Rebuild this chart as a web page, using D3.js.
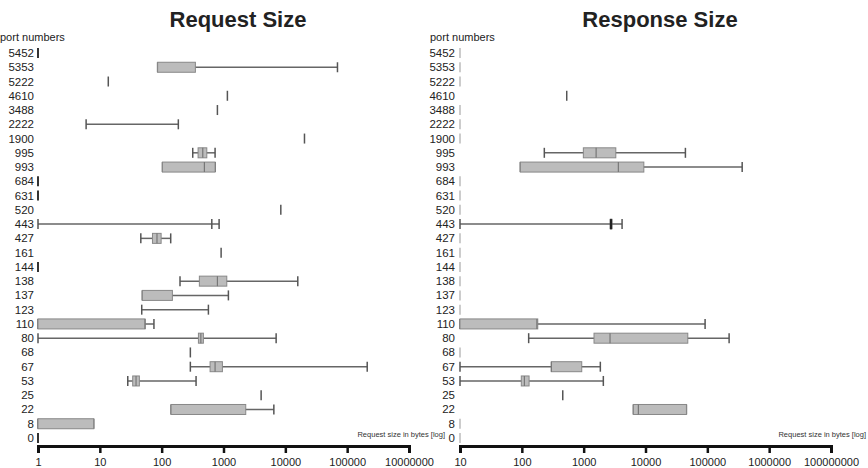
<!DOCTYPE html>
<html>
<head>
<meta charset="utf-8">
<script src="https://cdn.jsdelivr.net/npm/d3@7"></script>
<style>
    body { margin: 0; background: #fff; }
    text { font-family: "Liberation Sans", Arial, sans-serif; fill: #222; }
    .title { font-size: 22px; font-weight: bold; }
    .port { font-size: 11.5px; }
    .axis path, .axis line { stroke: #111; }
    .axis text { font-size: 11px; }
</style>
</head>
<body>
<svg id="chart" width="868" height="468"></svg>
<script>
// port numbers, top to bottom
const ports = ['5452', '5353', '5222', '4610', '3488', '2222', '1900', '995', '993', '684', '631',
    '520', '443', '427', '161', '144', '138', '137', '123', '110', '80', '68', '67', '53', '25', '22', '8', '0'];

// [min, q1, median, q3, max] per port, bytes
const requestStats = [
    [1, 1, 1, 1, 1],
    [86, 86, 86, 351, 69700],
    [13.7, 13.7, 13.7, 13.7, 13.7],
    [1156, 1156, 1156, 1156, 1156],
    [797, 797, 797, 797, 797],
    [6, 6, 6, 6, 186],
    [20400, 20400, 20400, 20400, 20400],
    [318, 388, 462, 537, 731],
    [103, 103, 491, 731, 731],
    [1, 1, 1, 1, 1],
    [1, 1, 1, 1, 1],
    [8450, 8450, 8450, 8450, 8450],
    [1, 647, 647, 647, 849],
    [46, 71, 84, 98, 140],
    [915, 915, 915, 915, 915],
    [1, 1, 1, 1, 1],
    [198, 407, 797, 1130, 15900],
    [48.7, 48.7, 48.7, 149, 1200],
    [47.6, 47.6, 47.6, 47.6, 570],
    [1, 1, 53.9, 53.9, 75],
    [1, 393, 430, 473, 7100],
    [291, 291, 291, 291, 291],
    [291, 607, 731, 960, 211000],
    [28.3, 34, 38.5, 43.6, 360],
    [4060, 4060, 4060, 4060, 4060],
    [142, 142, 142, 2290, 6520],
    [1, 1, 1, 7.96, 7.96],
    [1, 1, 1, 1, 1]
];

const responseStats = [
    [10, 10, 10, 10, 10],
    [10, 10, 10, 10, 10],
    [10, 10, 10, 10, 10],
    [532, 532, 532, 532, 532],
    [10, 10, 10, 10, 10],
    [10, 10, 10, 10, 10],
    [10, 10, 10, 10, 10],
    [231, 988, 1590, 3310, 44200],
    [94.6, 94.6, 3640, 9400, 366000],
    [10, 10, 10, 10, 10],
    [10, 10, 10, 10, 10],
    [10, 10, 10, 10, 10],
    [10, 2700, 2770, 2850, 4180],
    [10, 10, 10, 10, 10],
    [10, 10, 10, 10, 10],
    [10, 10, 10, 10, 10],
    [10, 10, 10, 10, 10],
    [10, 10, 10, 10, 10],
    [10, 10, 10, 10, 10],
    [10, 10, 175, 181, 92000],
    [129, 1470, 2670, 48300, 225000],
    [10, 10, 10, 10, 10],
    [10, 300, 300, 931, 1860],
    [10, 98, 110, 131, 2080],
    [459, 459, 459, 459, 459],
    [6370, 6370, 7670, 45900, 45900],
    [10, 10, 10, 10, 10],
    [10, 10, 10, 10, 10]
];

// tick values and their printed labels (labels as in the original figure)
const requestTicks = [1, 10, 100, 1e3, 1e4, 1e5, 1e6];
const requestTickLabels = ['1', '10', '100', '1000', '10000', '100000', '10000000'];
const responseTicks = [10, 100, 1e3, 1e4, 1e5, 1e6, 1e7];
const responseTickLabels = ['10', '100', '1000', '10000', '100000', '1000000', '100000000'];

const svg = d3.select('#chart');

function drawPanel(cfg){
    let g = svg.append('g');

    let x = d3.scaleLog().domain(cfg.domain).range(cfg.range);
    let y = d3.scalePoint().domain(ports).range([53, 438]);
    let boxH = 10;

    // title
    g.append('text')
        .attr('class', 'title')
        .attr('x', cfg.titleX)
        .attr('y', 27)
        .style('text-anchor', 'middle')
        .text(cfg.title);

    g.append('text')
        .attr('class', 'port')
        .attr('x', cfg.headX)
        .attr('y', 41)
        .style('font-size', '11px')
        .text('port numbers');

    // port labels
    g.selectAll('.port-label')
        .data(ports)
        .join('text')
        .attr('class', 'port port-label')
        .attr('x', cfg.labelX)
        .attr('y', d => y(d) + 4)
        .style('text-anchor', 'end')
        .text(d => d);

    let rows = cfg.stats.map((s, i) => ({port: ports[i], s: s}));

    let row = g.selectAll('.row')
        .data(rows)
        .join('g')
        .attr('class', 'row')
        .attr('transform', d => `translate(0, ${y(d.port)})`);

    // single value ticks
    row.filter(d => d.s[0] === d.s[4])
        .append('line')
        .attr('x1', d => x(d.s[0]))
        .attr('x2', d => x(d.s[0]))
        .attr('y1', -boxH/2)
        .attr('y2', boxH/2)
        .attr('stroke', d => d.s[0] === cfg.domain[0] ? cfg.floorColor : '#555')
        .attr('stroke-width', d => d.s[0] === cfg.domain[0] ? cfg.floorWidth : 1.5);

    let spread = row.filter(d => d.s[0] !== d.s[4]);

    // whisker
    spread.append('line')
        .attr('x1', d => x(d.s[0]))
        .attr('x2', d => x(d.s[4]))
        .attr('y1', 0)
        .attr('y2', 0)
        .attr('stroke', '#666')
        .attr('stroke-width', 1.5);

    // caps
    spread.selectAll('.cap')
        .data(d => [d.s[0], d.s[4]])
        .join('line')
        .attr('class', 'cap')
        .attr('x1', d => x(d))
        .attr('x2', d => x(d))
        .attr('y1', -boxH/2)
        .attr('y2', boxH/2)
        .attr('stroke', '#555')
        .attr('stroke-width', 1.5);

    // boxes
    spread.filter(d => d.s[3] > d.s[1])
        .append('rect')
        .attr('x', d => x(d.s[1]))
        .attr('width', d => x(d.s[3]) - x(d.s[1]))
        .attr('y', -boxH/2)
        .attr('height', boxH)
        .attr('fill', '#bcbcbc')
        .attr('stroke', '#888')
        .attr('stroke-width', 1);

    // median (skipped when it sits on the lower whisker end)
    let narrow = d => d.s[3] > d.s[1] && (x(d.s[3]) - x(d.s[1])) < 4;
    spread.filter(d => d.s[2] !== d.s[0])
        .append('line')
        .attr('x1', d => x(d.s[2]))
        .attr('x2', d => x(d.s[2]))
        .attr('y1', -boxH/2)
        .attr('y2', boxH/2)
        .attr('stroke', d => narrow(d) ? '#222' : (d.s[3] === d.s[1] ? '#555' : '#777'))
        .attr('stroke-width', d => narrow(d) ? 2.5 : (d.s[3] === d.s[1] ? 1.5 : 1.2));

    // x axis
    let axis = d3.axisBottom(x)
        .tickValues(cfg.ticks)
        .tickFormat((d, i) => cfg.tickLabels[i])
        .tickSizeOuter(0)
        .tickSize(7)
        .tickPadding(5);

    let axisG = g.append('g')
        .attr('class', 'axis')
        .attr('transform', 'translate(0, 446)')
        .call(axis);

    axisG.select('.domain').attr('stroke-width', 3);
    axisG.selectAll('.tick line').attr('stroke-width', 2.5);
    axisG.selectAll('.tick text').attr('fill', '#222');

    g.append('text')
        .attr('x', cfg.axisLabelX)
        .attr('y', 437)
        .style('text-anchor', 'end')
        .style('font-size', '7.5px')
        .style('fill', '#333')
        .text('Request size in bytes [log]');
}

drawPanel({
    title: 'Request Size',
    titleX: 238,
    headX: 0,
    labelX: 34,
    stats: requestStats,
    domain: [1, 1e6],
    range: [38, 409],
    ticks: requestTicks,
    tickLabels: requestTickLabels,
    axisLabelX: 445,
    floorColor: '#333',
    floorWidth: 2
});

drawPanel({
    title: 'Response Size',
    titleX: 660,
    headX: 430,
    labelX: 455,
    stats: responseStats,
    domain: [10, 1e7],
    range: [460, 831],
    ticks: responseTicks,
    tickLabels: responseTickLabels,
    axisLabelX: 866,
    floorColor: '#aaa',
    floorWidth: 1.2
});
</script>
</body>
</html>
